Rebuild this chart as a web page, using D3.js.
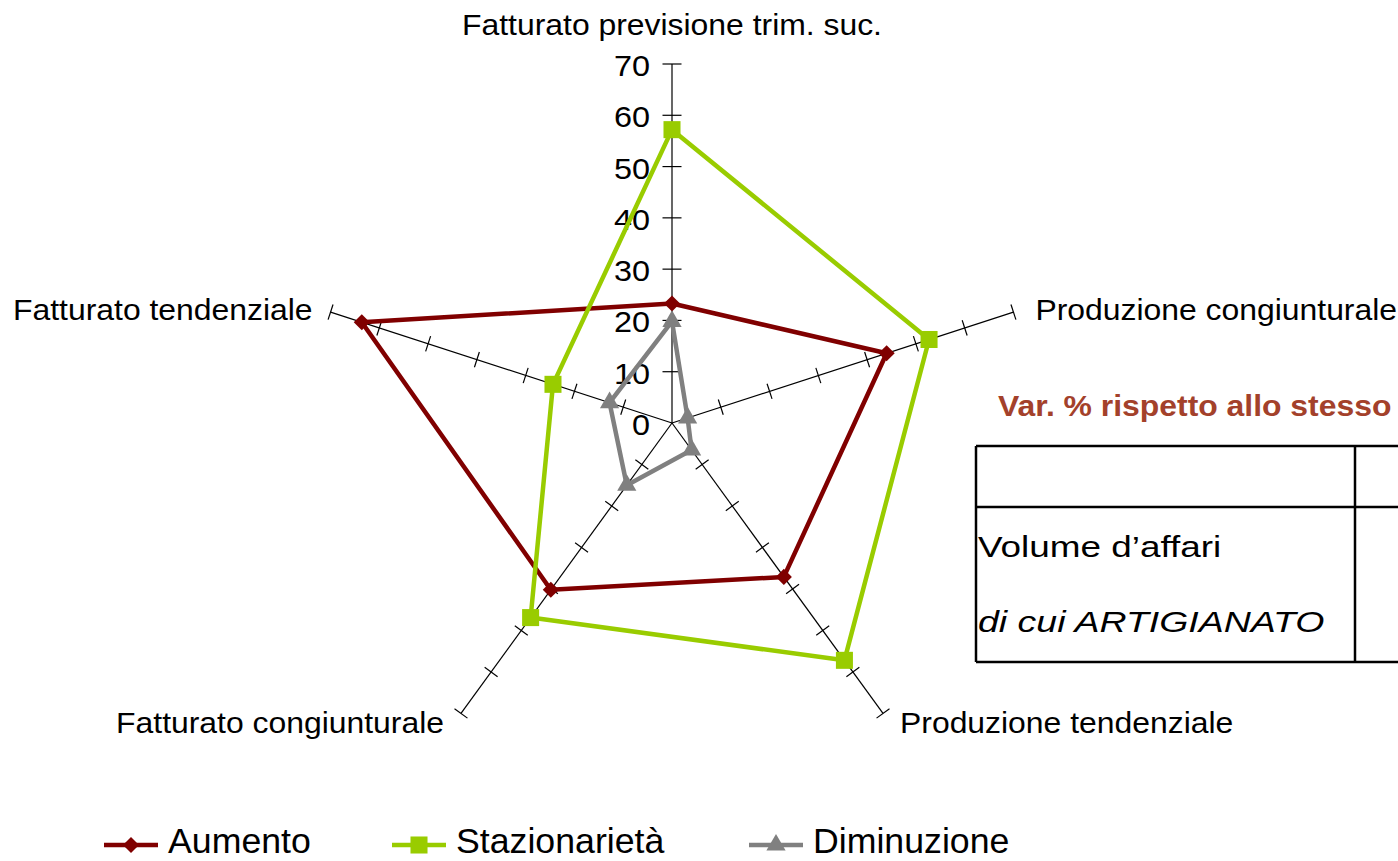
<!DOCTYPE html>
<html>
<head>
<meta charset="utf-8">
<script src="https://cdn.jsdelivr.net/npm/d3@7"></script>
<style>
  html, body { margin: 0; padding: 0; background: #ffffff; }
  svg { display: block; }
</style>
</head>
<body>
<svg id="chart" width="1398" height="861"></svg>
<script>
// ---------------- DATA ----------------
const categories = [
  "Fatturato previsione trim. suc.",
  "Produzione congiunturale",
  "Produzione tendenziale",
  "Fatturato congiunturale",
  "Fatturato tendenziale"
];
const aumento       = [23.3, 44.0, 37.1, 40.2, 63.6];
const stazionarieta = [57.2, 52.7, 57.2, 46.9, 24.4];
const diminuzione   = [19.8, 3.2, 6.5, 15.0, 12.8];
const tickValues = [0, 10, 20, 30, 40, 50, 60, 70];
const seriesNames = ["Aumento", "Stazionarietà", "Diminuzione"];
const tableTitle = "Var. % rispetto allo stesso";
const tableRows = ["Volume d’affari", "di cui ARTIGIANATO"];

// ---------------- SETUP ----------------
const svg = d3.select("#chart");
const W = 1398, H = 861;
svg.append("rect").attr("width", W).attr("height", H).attr("fill", "#ffffff");
const FONT = "'Liberation Sans', Arial, Helvetica, sans-serif";

const cx = 672, cy = 423;
const rScale = d3.scaleLinear().domain([0, 70]).range([0, 359]);
const angle = d3.scalePoint().domain(categories).range([0, 2 * Math.PI * (categories.length - 1) / categories.length]);
function pt(cat, v) {
  const a = angle(cat);
  return [cx + rScale(v) * Math.sin(a), cy - rScale(v) * Math.cos(a)];
}

function addText(parent, x, y, str, o) {
  const g = parent.append("g").attr("transform", `translate(${x},${y}) scale(${o.sx || 1},1)`);
  g.append("text")
    .attr("x", 0).attr("y", 0)
    .attr("text-anchor", o.anchor || "start")
    .attr("font-family", FONT)
    .attr("font-size", o.size)
    .attr("font-weight", o.weight || "normal")
    .attr("font-style", o.style || "normal")
    .attr("fill", o.fill || "#000")
    .text(str);
  return g;
}

// ---------------- TABLE OVERLAY (right) ----------------
const tbl = svg.append("g");
addText(tbl, 998, 416, tableTitle, {size: 29, weight: "bold", fill: "#A3412B", sx: 1.1});
const tLeft = 976, tTop = 446, tMid = 507, tBot = 662, tCol = 1355;
[[tLeft, tTop, W + 5, tTop], [tLeft, tMid, W + 5, tMid], [tLeft, tBot, W + 5, tBot],
 [tLeft, tTop, tLeft, tBot], [tCol, tTop, tCol, tBot]].forEach(l => {
  tbl.append("line").attr("x1", l[0]).attr("y1", l[1]).attr("x2", l[2]).attr("y2", l[3])
    .attr("stroke", "#000").attr("stroke-width", 2.5);
});
addText(tbl, 978, 557, tableRows[0], {size: 30, sx: 1.23});
addText(tbl, 978, 632, tableRows[1], {size: 30, sx: 1.25, style: "italic"});

// ---------------- AXES ----------------
const axes = svg.append("g");
categories.forEach(cat => {
  const a = angle(cat);
  const e = pt(cat, 70);
  axes.append("line").attr("x1", cx).attr("y1", cy).attr("x2", e[0]).attr("y2", e[1])
    .attr("stroke", "#000").attr("stroke-width", 1.2);
  const half = a === 0 ? 9.5 : 8;
  const px = Math.cos(a), py = Math.sin(a);
  tickValues.filter(v => v > 0).forEach(v => {
    const p = pt(cat, v);
    axes.append("line")
      .attr("x1", p[0] - px * half).attr("y1", p[1] - py * half)
      .attr("x2", p[0] + px * half).attr("y2", p[1] + py * half)
      .attr("stroke", "#000").attr("stroke-width", 1.2);
  });
});

// tick labels on the first axis
tickValues.forEach(v => {
  const p = pt(categories[0], v);
  addText(axes, 650, p[1] + 12, String(v), {size: 30, anchor: "end", sx: 1.08});
});

// category labels
const labelOffsets = [
  {dx: 0, dy: -29, anchor: "middle"},
  {dx: 22, dy: 8, anchor: "start"},
  {dx: 17, dy: 20, anchor: "start"},
  {dx: -17, dy: 20, anchor: "end"},
  {dx: -18, dy: 8, anchor: "end"}
];
categories.forEach((cat, i) => {
  const e = pt(cat, 70);
  const o = labelOffsets[i];
  addText(axes, e[0] + o.dx, e[1] + o.dy, cat, {size: 29, anchor: o.anchor, sx: 1.1});
});

// ---------------- SERIES ----------------
const series = [
  {name: seriesNames[0], values: aumento, color: "#800000", symbol: "diamond"},
  {name: seriesNames[1], values: stazionarieta, color: "#99CC00", symbol: "square"},
  {name: seriesNames[2], values: diminuzione, color: "#808080", symbol: "triangle"}
];
function drawMarker(g, x, y, s) {
  if (s.symbol === "diamond") {
    g.append("path").attr("d", d3.symbol().type(d3.symbolSquare).size(130)())
      .attr("transform", `translate(${x},${y}) rotate(45)`).attr("fill", s.color);
  } else if (s.symbol === "square") {
    g.append("path").attr("d", d3.symbol().type(d3.symbolSquare).size(290)())
      .attr("transform", `translate(${x},${y})`).attr("fill", s.color);
  } else {
    g.append("path").attr("d", d3.symbol().type(d3.symbolTriangle).size(160)())
      .attr("transform", `translate(${x},${y})`).attr("fill", s.color);
  }
}
const lineGen = d3.line().curve(d3.curveLinearClosed);
const sg = svg.append("g");
series.forEach(s => {
  const pts = categories.map((c, i) => pt(c, s.values[i]));
  sg.append("path").attr("d", lineGen(pts)).attr("fill", "none")
    .attr("stroke", s.color).attr("stroke-width", 4.5).attr("stroke-linejoin", "round");
  pts.forEach(p => drawMarker(sg, p[0], p[1], s));
});

// ---------------- LEGEND ----------------
const legendX = [104, 392, 749];
const leg = svg.append("g");
series.forEach((s, i) => {
  const x0 = legendX[i], y0 = 845;
  leg.append("line").attr("x1", x0).attr("y1", y0).attr("x2", x0 + 54).attr("y2", y0)
    .attr("stroke", s.color).attr("stroke-width", 4.5);
  drawMarker(leg, x0 + 27, y0, s);
  addText(leg, x0 + 64, 853, s.name, {size: 35, sx: 1.02});
});
</script>
</body>
</html>
